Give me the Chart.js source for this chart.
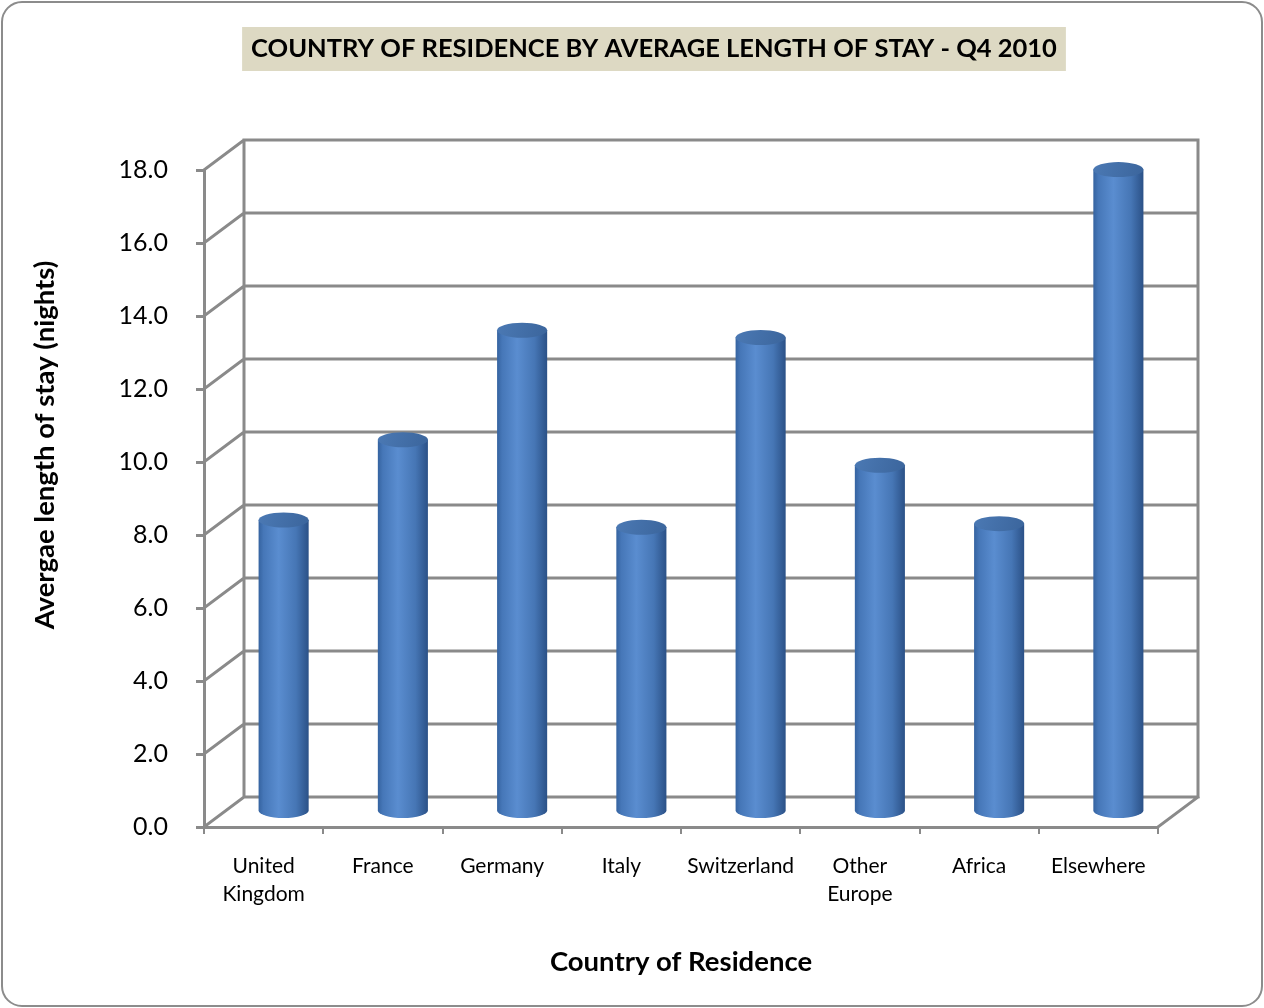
<!DOCTYPE html>
<html>
<head>
<meta charset="utf-8">
<script src="https://cdn.jsdelivr.net/npm/chart.js@4.4.0/dist/chart.umd.min.js"></script>
<style>
  body { margin: 0; background: #fff; }
  canvas { display: block; }
</style>
</head>
<body>
<canvas id="chart" width="1264" height="1008"></canvas>
<script>
const countries = [['United', 'Kingdom'], 'France', 'Germany', 'Italy', 'Switzerland', ['Other', 'Europe'], 'Africa', 'Elsewhere'];
const avgStay = [8.0, 10.2, 13.2, 7.8, 13.0, 9.5, 7.9, 17.6];
const yTicks = [0, 2, 4, 6, 8, 10, 12, 14, 16, 18];

const titleText = 'COUNTRY OF RESIDENCE BY AVERAGE LENGTH OF STAY - Q4 2010';
const yTitleText = 'Avergae length of stay (nights)';
const fontFamily = 'Lato, "Open Sans", sans-serif';
const gridColor = '#8a8a8a';
const depthX = 40, depthY = -30; // back wall offset from the front plane

// white page, rounded frame, title with its beige box, y axis title
const framePlugin = {
  id: 'frame',
  beforeDraw(chart) {
    const ctx = chart.ctx;
    ctx.save();
    ctx.fillStyle = '#fff';
    ctx.fillRect(0, 0, chart.width, chart.height);
    ctx.beginPath();
    ctx.roundRect(2, 2, chart.width - 4, chart.height - 4, 20);
    ctx.strokeStyle = '#8c8c8c';
    ctx.lineWidth = 2;
    ctx.stroke();
    ctx.restore();
  },
  afterDraw(chart) {
    const ctx = chart.ctx;
    ctx.save();
    ctx.font = 'bold 25.5px ' + fontFamily;
    const w = ctx.measureText(titleText).width;
    const cx = 654;
    ctx.fillStyle = '#ddd9c3';
    ctx.fillRect(cx - w / 2 - 9, 27, w + 18, 44);
    ctx.fillStyle = '#000';
    ctx.textAlign = 'center';
    ctx.textBaseline = 'middle';
    ctx.fillText(titleText, cx, 49);

    ctx.translate(45, 445);
    ctx.rotate(-Math.PI / 2);
    ctx.font = 'bold 27.5px ' + fontFamily;
    ctx.fillText(yTitleText, 0, 0);
    ctx.restore();
  }
};

// side wall, back wall and floor lines
const wallsPlugin = {
  id: 'walls',
  beforeDatasetsDraw(chart) {
    const ctx = chart.ctx;
    const y = chart.scales.y;
    const area = chart.chartArea;
    ctx.save();
    ctx.strokeStyle = gridColor;
    ctx.lineWidth = 3;
    ctx.lineCap = 'square';
    ctx.beginPath();
    yTicks.forEach(v => {
      const py = y.getPixelForValue(v);
      ctx.moveTo(area.left, py);
      ctx.lineTo(area.left + depthX, py + depthY);
      ctx.lineTo(area.right + depthX, py + depthY);
    });
    const top = y.getPixelForValue(yTicks[yTicks.length - 1]) + depthY;
    const bottom = y.getPixelForValue(0) + depthY;
    ctx.moveTo(area.left + depthX, top);
    ctx.lineTo(area.left + depthX, bottom);
    ctx.moveTo(area.right + depthX, top);
    ctx.lineTo(area.right + depthX, bottom);
    ctx.moveTo(area.right, area.bottom);
    ctx.lineTo(area.right + depthX, area.bottom + depthY);
    ctx.stroke();
    ctx.restore();
  }
};

// cylinders drawn from the bar elements, placed half way into the depth
const cylinderPlugin = {
  id: 'cylinders',
  afterDatasetsDraw(chart) {
    const ctx = chart.ctx;
    const meta = chart.getDatasetMeta(0);
    const ry = 7.5;
    ctx.save();
    meta.data.forEach(bar => {
      const cx = bar.x + depthX / 2;
      const top = bar.y + depthY / 2;
      const base = bar.base + depthY / 2;
      const rx = bar.width / 2;
      const grad = ctx.createLinearGradient(cx - rx, 0, cx + rx, 0);
      grad.addColorStop(0, '#3563a0');
      grad.addColorStop(0.1, '#4677b8');
      grad.addColorStop(0.4, '#5a8dd0');
      grad.addColorStop(0.75, '#4676b5');
      grad.addColorStop(1, '#2b5187');

      ctx.beginPath();
      ctx.moveTo(cx - rx, top);
      ctx.lineTo(cx - rx, base);
      ctx.ellipse(cx, base, rx, ry, 0, Math.PI, 0, true);
      ctx.lineTo(cx + rx, top);
      ctx.closePath();
      ctx.fillStyle = grad;
      ctx.fill();

      const capGrad = ctx.createLinearGradient(cx - rx, top - ry, cx + rx, top + ry);
      capGrad.addColorStop(0, '#4b79b4');
      capGrad.addColorStop(1, '#3b659c');
      ctx.beginPath();
      ctx.ellipse(cx, top, rx, ry, 0, 0, Math.PI * 2);
      ctx.fillStyle = capGrad;
      ctx.fill();
    });
    ctx.restore();
  }
};

const ctx = document.getElementById('chart').getContext('2d');

const chart = new Chart(ctx, {
  type: 'bar',
  data: {
    labels: countries,
    datasets: [{
      label: 'Average length of stay',
      data: avgStay,
      backgroundColor: 'rgba(0,0,0,0)',
      borderWidth: 0,
      categoryPercentage: 1,
      barPercentage: 0.42
    }]
  },
  options: {
    responsive: false,
    animation: false,
    devicePixelRatio: 1,
    layout: {
      padding: { left: 12, right: 106, top: 170, bottom: 20 }
    },
    plugins: {
      legend: { display: false },
      tooltip: { enabled: false },
      title: { display: false }
    },
    scales: {
      x: {
        grid: {
          offset: true,
          drawOnChartArea: false,
          drawTicks: true,
          tickLength: 7,
          color: gridColor,
          lineWidth: 2
        },
        border: { display: true, color: gridColor, width: 3 },
        ticks: {
          color: '#000',
          font: { family: fontFamily, size: 21, lineHeight: 1.35 },
          padding: 18,
          maxRotation: 0,
          autoSkip: false
        },
        title: {
          display: true,
          text: 'Country of Residence',
          color: '#000',
          font: { family: fontFamily, size: 27.5, weight: 'bold' },
          padding: { top: 0, bottom: 9 }
        },
        afterFit(scale) { scale.height = 161; }
      },
      y: {
        min: 0,
        max: 18,
        afterBuildTicks(scale) { scale.ticks = yTicks.map(v => ({ value: v })); },
        grid: {
          drawOnChartArea: false,
          drawTicks: true,
          tickLength: 8,
          color: gridColor,
          lineWidth: 3
        },
        border: { display: true, color: gridColor, width: 3 },
        ticks: {
          color: '#000',
          font: { family: fontFamily, size: 25 },
          padding: 28,
          callback: v => v.toFixed(1)
        },
        afterFit(scale) { scale.width = 192; }
      }
    }
  },
  plugins: [framePlugin, wallsPlugin, cylinderPlugin]
});
</script>
</body>
</html>
